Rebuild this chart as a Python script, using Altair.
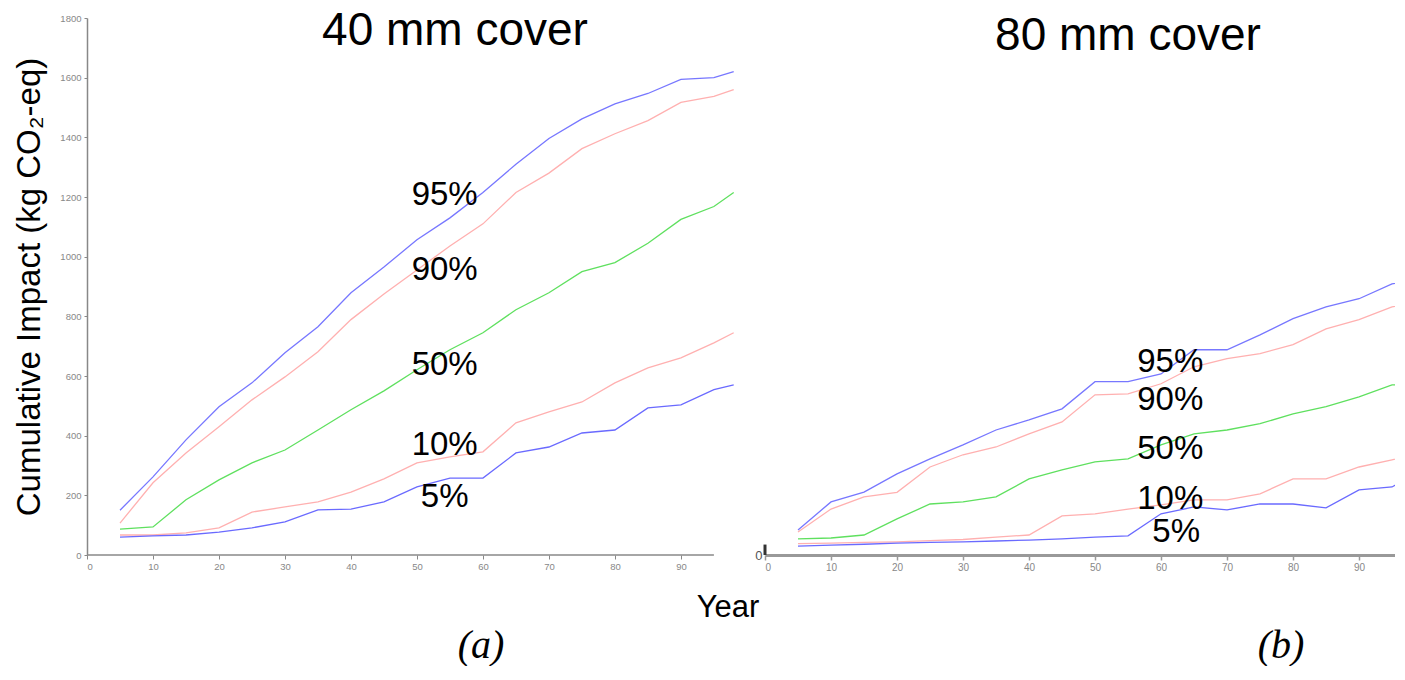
import altair as alt
import pandas as pd

# ---------------- data ----------------
series = ["95%", "90%", "50%", "10%", "5%"]
colors = ["#7777ff", "#ffb0b0", "#5fe05f", "#ffb0b0", "#6a6aff"]

# (a) 40 mm cover
years_a = [5, 10, 15, 20, 25, 30, 35, 40, 45, 50, 55, 60, 65, 70, 75, 80, 85, 90, 95, 98]
a_95 = [150, 262, 386, 497, 577, 678, 765, 879, 965, 1057, 1130, 1215, 1310, 1396, 1462, 1512, 1547, 1594, 1600, 1620]
a_90 = [107, 242, 342, 430, 520, 597, 681, 789, 875, 955, 1036, 1110, 1215, 1280, 1362, 1412, 1456, 1517, 1537, 1560]
a_50 = [87, 94, 185, 252, 309, 352, 419, 487, 550, 621, 688, 745, 822, 879, 950, 980, 1045, 1125, 1168, 1215]
a_10 = [67, 67, 74, 91, 144, 161, 178, 211, 255, 309, 329, 346, 443, 480, 513, 577, 627, 661, 711, 745]
a_5 = [60, 64, 67, 77, 91, 111, 151, 154, 178, 228, 258, 258, 342, 362, 409, 419, 493, 503, 554, 570]

# (b) 80 mm cover
years_b = [5, 10, 15, 20, 25, 30, 35, 40, 45, 50, 55, 60, 65, 70, 75, 80, 85, 90, 95, 97]
b_95 = [84, 178, 211, 272, 322, 369, 419, 453, 490, 581, 581, 607, 688, 688, 738, 792, 832, 859, 909, 916]
b_90 = [77, 154, 195, 210, 295, 336, 362, 406, 446, 537, 540, 574, 631, 658, 675, 705, 758, 789, 832, 839]
b_50 = [54, 57, 67, 121, 171, 178, 195, 255, 285, 312, 322, 369, 406, 419, 440, 473, 497, 530, 570, 570]
b_10 = [38, 40, 42, 44, 48, 52, 60, 67, 131, 138, 154, 168, 185, 185, 205, 255, 255, 295, 319, 329]
b_5 = [30, 33, 36, 40, 42, 44, 47, 50, 54, 60, 64, 138, 161, 151, 171, 171, 158, 218, 228, 255]

x_ticks = [0, 10, 20, 30, 40, 50, 60, 70, 80, 90]
y_ticks = [0, 200, 400, 600, 800, 1000, 1200, 1400, 1600, 1800]


def long_df(years, cols):
    rows = []
    for name, vals in zip(series, cols):
        for yr, v in zip(years, vals):
            rows.append({"year": yr, "value": v, "series": name})
    return pd.DataFrame(rows)


df_a = long_df(years_a, [a_95, a_90, a_50, a_10, a_5])
df_b = long_df(years_b, [b_95, b_90, b_50, b_10, b_5])

# label anchor positions (data coordinates)
lab_a = pd.DataFrame({"series": series, "lx": [54.2] * 5, "ly": [1208, 956, 637, 369, 195]})
lab_b = pd.DataFrame({"series": series, "lx": [61.4, 61.4, 61.4, 61.4, 62.3], "ly": [648, 520, 356, 188, 77]})

FONT = "Liberation Sans"
W_A, W_B, H = 650, 630, 537

color_enc = alt.Color("series:N", scale=alt.Scale(domain=series, range=colors), legend=None)
one = pd.DataFrame({"k": [0]})

# ---------------- left panel ----------------
xa = alt.X("year:Q", scale=alt.Scale(domain=[0, 98.5], nice=False, zero=False),
           axis=alt.Axis(values=x_ticks, domain=False, grid=False, tickSize=4, tickColor="#888",
                         labelColor="#888", labelFontSize=9.5, labelFont=FONT, title=None))
ya = alt.Y("value:Q", scale=alt.Scale(domain=[0, 1800], nice=False),
           axis=alt.Axis(values=y_ticks, format="d", grid=False, domainColor="#888", domainWidth=1.5,
                         tickColor="#888", tickSize=3, labelColor="#888", labelFontSize=9.5,
                         labelFont=FONT, labelPadding=3,
                         title="Cumulative Impact (kg CO₂-eq)", titleFontSize=33,
                         titleFont=FONT, titleFontWeight="normal", titleColor="black",
                         titlePadding=13))

lines_a = alt.Chart(df_a).mark_line(strokeWidth=1.3, clip=True).encode(
    x=xa, y=ya, color=color_enc, detail="series:N")
labels_a = alt.Chart(lab_a).mark_text(font=FONT, fontSize=33, color="black").encode(
    x="lx:Q", y="ly:Q", text="series:N")
xrule_a = alt.Chart(one).mark_rule(color="#888", strokeWidth=1.5).encode(
    x=alt.datum(0), x2=alt.datum(95), y=alt.datum(0))
year_txt = alt.Chart(one).mark_text(font=FONT, fontSize=31, color="black").encode(
    x=alt.value(641), y=alt.value(590), text=alt.value("Year"))
a_txt = alt.Chart(one).mark_text(font="Liberation Serif", fontStyle="italic", fontSize=40,
                                 color="black").encode(
    x=alt.value(394), y=alt.value(628), text=alt.value("(a)"))

left = alt.layer(lines_a, xrule_a, labels_a, year_txt, a_txt).properties(
    width=W_A, height=H,
    title=alt.TitleParams("40 mm cover", font=FONT, fontSize=46, fontWeight="normal",
                          color="black", anchor="middle", dx=43, dy=42, offset=0))

# ---------------- right panel ----------------
xb = alt.X("year:Q", scale=alt.Scale(domain=[0, 95.45], nice=False, zero=False),
           axis=alt.Axis(values=x_ticks, domainColor="#999", domainWidth=3, grid=False,
                         tickSize=5, tickColor="#999", tickWidth=1.5, labelColor="#888",
                         labelFontSize=10, labelFont=FONT, title=None))
yb = alt.Y("value:Q", scale=alt.Scale(domain=[0, 1800], nice=False),
           axis=alt.Axis(values=[0], domain=False, ticks=False, grid=False, labelColor="#555",
                         labelFontSize=13, labelFont=FONT, labelPadding=3, title=None))

lines_b = alt.Chart(df_b).mark_line(strokeWidth=1.3, clip=True).encode(
    x=xb, y=yb, color=color_enc, detail="series:N")
labels_b = alt.Chart(lab_b).mark_text(font=FONT, fontSize=33, color="black").encode(
    x="lx:Q", y="ly:Q", text="series:N")
ystub = alt.Chart(one).mark_rule(color="#333", strokeWidth=3).encode(
    x=alt.datum(0), y=alt.datum(0), y2=alt.datum(35))
b_txt = alt.Chart(one).mark_text(font="Liberation Serif", fontStyle="italic", fontSize=40,
                                 color="black").encode(
    x=alt.value(516), y=alt.value(628), text=alt.value("(b)"))

right = alt.layer(lines_b, ystub, labels_b, b_txt).properties(
    width=W_B, height=H,
    title=alt.TitleParams("80 mm cover", font=FONT, fontSize=46, fontWeight="normal",
                          color="black", anchor="middle", dx=48, dy=42, offset=0))

chart = alt.hconcat(left, right, spacing=28, bounds="flush").properties(
    padding={"left": 5, "top": 0, "right": 0, "bottom": 0}
).configure(background="white").configure_view(stroke=None)

chart.save("out.html", embed_options={"renderer": "svg", "actions": False})
